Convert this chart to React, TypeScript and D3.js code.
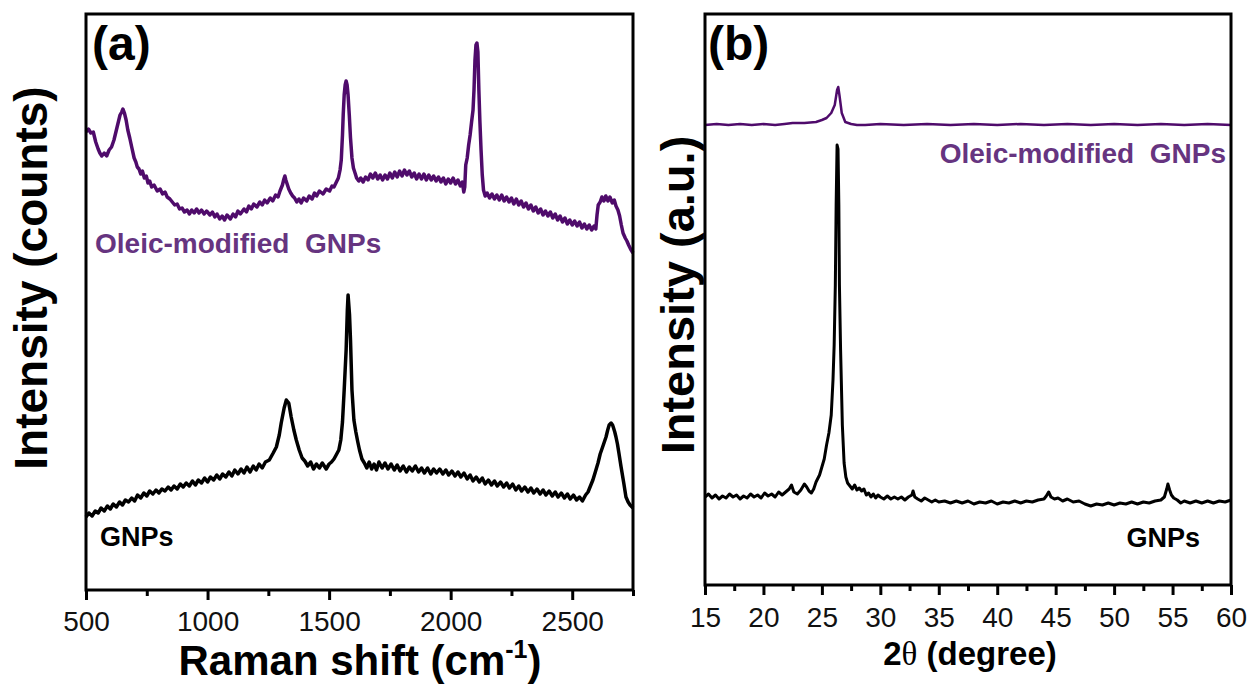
import { useEffect, useRef } from 'react';
import * as d3 from 'd3';

// Raman spectra, [shift cm-1, intensity counts (arb.)]
const ramanOleic: [number, number][] = [
  [500, 458], [510, 461], [520, 457], [530, 458], [540, 448], [550, 441], [557, 437], [565, 434],
  [575, 437], [585, 434], [595, 440], [605, 443], [615, 450], [625, 460], [633, 468], [640, 475],
  [647, 478], [652, 481], [658, 477], [665, 470], [672, 460], [680, 452], [688, 443], [698, 432],
  [705, 428], [711, 423], [718, 421], [725, 416], [732, 419], [740, 412], [748, 414], [755, 407],
  [762, 409], [770, 403], [780, 405], [793, 399], [805, 401], [815, 396], [825, 398], [834, 393],
  [845, 391], [855, 388], [865, 385], [875, 386], [885, 381], [895, 382], [905, 378], [916, 380],
  [925, 376], [935, 380], [945, 377], [955, 381], [965, 377], [975, 380], [986, 376], [996, 379],
  [1010, 375], [1020, 378], [1030, 373], [1039, 376], [1050, 371], [1060, 374], [1070, 370], [1080, 375],
  [1094, 371], [1105, 376], [1115, 373], [1125, 379], [1135, 376], [1150, 381], [1160, 378], [1170, 384],
  [1180, 381], [1190, 386], [1203, 383], [1215, 388], [1225, 385], [1235, 390], [1245, 387], [1258, 392],
  [1268, 389], [1280, 395], [1290, 393], [1298, 399], [1308, 405], [1314, 411], [1318, 414], [1322, 410],
  [1326, 407], [1334, 401], [1342, 397], [1350, 394], [1358, 392], [1367, 388], [1376, 391], [1385, 387],
  [1395, 392], [1408, 389], [1418, 394], [1430, 391], [1440, 397], [1449, 394], [1460, 399], [1475, 396],
  [1488, 401], [1502, 399], [1512, 404], [1520, 403], [1530, 408], [1538, 412], [1545, 420], [1550, 430],
  [1555, 455], [1558, 475], [1562, 495], [1566, 505], [1570, 509], [1574, 505], [1578, 495], [1583, 475],
  [1588, 452], [1594, 432], [1600, 422], [1608, 416], [1613, 412], [1622, 409], [1630, 412], [1640, 408],
  [1650, 413], [1660, 410], [1670, 416], [1680, 412], [1690, 417], [1700, 411], [1710, 415], [1720, 410],
  [1730, 415], [1740, 411], [1750, 417], [1760, 412], [1770, 418], [1780, 413], [1790, 419], [1800, 414],
  [1810, 420], [1820, 415], [1830, 419], [1840, 413], [1850, 417], [1860, 411], [1870, 416], [1880, 411],
  [1890, 416], [1900, 410], [1910, 415], [1920, 410], [1930, 414], [1940, 409], [1950, 413], [1960, 408],
  [1970, 412], [1980, 406], [1990, 411], [2000, 407], [2010, 412], [2020, 406], [2030, 410], [2040, 404],
  [2048, 408], [2054, 398], [2058, 403], [2062, 425], [2068, 432], [2074, 445], [2080, 455], [2086, 468],
  [2092, 480], [2096, 500], [2100, 530], [2104, 545], [2108, 547], [2112, 538], [2116, 500], [2120, 470],
  [2125, 440], [2130, 415], [2135, 400], [2142, 394], [2150, 397], [2160, 392], [2170, 396], [2180, 391],
  [2190, 395], [2200, 390], [2210, 395], [2220, 389], [2230, 393], [2240, 388], [2250, 392], [2260, 386],
  [2270, 391], [2280, 385], [2290, 389], [2300, 383], [2310, 387], [2320, 381], [2330, 385], [2340, 379],
  [2350, 383], [2360, 377], [2370, 381], [2380, 375], [2390, 379], [2400, 374], [2410, 378], [2420, 372],
  [2430, 376], [2440, 370], [2450, 374], [2460, 368], [2470, 372], [2480, 366], [2490, 370], [2500, 365],
  [2510, 369], [2520, 364], [2530, 368], [2540, 362], [2550, 366], [2560, 361], [2570, 365], [2580, 360],
  [2590, 364], [2597, 361], [2602, 375], [2607, 385], [2615, 388], [2622, 393], [2630, 389], [2638, 394],
  [2647, 389], [2655, 393], [2665, 387], [2673, 390], [2680, 384], [2688, 380], [2695, 374], [2702, 365],
  [2709, 357], [2718, 352], [2725, 349], [2732, 345], [2740, 341], [2750, 337],
];

const ramanGNPs: [number, number][] = [
  [500, 73], [512, 77], [525, 74], [538, 79], [550, 77], [562, 82], [575, 79], [588, 84],
  [600, 81], [612, 86], [625, 83], [638, 88], [650, 85], [662, 90], [675, 88], [688, 92],
  [700, 89], [712, 95], [725, 92], [738, 97], [750, 94], [762, 99], [775, 96], [788, 100],
  [800, 97], [812, 101], [825, 99], [838, 103], [850, 100], [862, 104], [875, 101], [888, 106],
  [900, 103], [912, 107], [925, 104], [938, 109], [950, 105], [962, 110], [975, 107], [988, 112],
  [1000, 108], [1012, 113], [1025, 110], [1038, 115], [1050, 111], [1062, 116], [1075, 113], [1088, 118],
  [1100, 114], [1112, 120], [1125, 116], [1138, 121], [1150, 117], [1162, 123], [1175, 118], [1188, 124],
  [1200, 120], [1212, 126], [1225, 122], [1238, 128], [1254, 130], [1270, 137], [1283, 143], [1295, 155],
  [1303, 167], [1315, 182], [1324, 190], [1334, 187], [1344, 173], [1355, 160], [1365, 150], [1377, 140],
  [1389, 132], [1400, 129], [1412, 124], [1424, 128], [1436, 121], [1448, 126], [1460, 122], [1472, 127],
  [1488, 121], [1500, 126], [1510, 128], [1520, 131], [1529, 135], [1540, 140], [1548, 150], [1555, 168],
  [1562, 200], [1570, 240], [1575, 280], [1578, 295], [1584, 275], [1588, 250], [1594, 200], [1602, 170],
  [1610, 158], [1618, 148], [1625, 140], [1635, 131], [1645, 127], [1655, 122], [1665, 128], [1675, 121],
  [1685, 126], [1695, 120], [1705, 128], [1718, 122], [1730, 127], [1742, 121], [1755, 126], [1768, 120],
  [1780, 125], [1792, 119], [1805, 124], [1818, 118], [1830, 123], [1842, 119], [1855, 124], [1868, 118],
  [1880, 122], [1892, 117], [1905, 122], [1918, 116], [1930, 121], [1942, 117], [1955, 121], [1968, 116],
  [1980, 120], [1992, 115], [2005, 119], [2018, 114], [2030, 118], [2042, 113], [2055, 117], [2068, 111],
  [2080, 115], [2092, 109], [2105, 113], [2118, 108], [2130, 112], [2142, 106], [2155, 110], [2168, 105],
  [2180, 109], [2192, 104], [2205, 108], [2218, 103], [2230, 107], [2242, 102], [2255, 106], [2268, 100],
  [2280, 104], [2292, 99], [2305, 103], [2318, 98], [2330, 102], [2342, 97], [2355, 101], [2368, 96],
  [2380, 100], [2392, 95], [2405, 99], [2418, 94], [2430, 98], [2442, 93], [2455, 97], [2468, 92],
  [2480, 96], [2492, 91], [2505, 95], [2518, 90], [2530, 93], [2542, 89], [2555, 95], [2565, 98],
  [2575, 104], [2585, 110], [2595, 118], [2606, 127], [2615, 136], [2625, 143], [2632, 148], [2639, 153],
  [2646, 160], [2652, 165], [2660, 167], [2666, 165], [2670, 162], [2675, 158], [2680, 153], [2686, 146],
  [2692, 137], [2701, 123], [2712, 107], [2721, 93], [2730, 88], [2738, 85], [2750, 82],
];

// XRD patterns, [2theta deg, intensity (a.u.)]
const xrdGNPs: [number, number][] = [
  [15, 88], [15.3, 91], [15.6, 87], [15.9, 90], [16.2, 86], [16.5, 89], [16.8, 87], [17.1, 91],
  [17.4, 88], [17.7, 90], [18, 86], [18.3, 89], [18.6, 87], [18.9, 91], [19.2, 88], [19.5, 90],
  [19.8, 87], [20.1, 92], [20.4, 89], [20.7, 91], [21, 88], [21.3, 93], [21.6, 90], [21.9, 93],
  [22.2, 96], [22.4, 100], [22.6, 93], [22.9, 91], [23.2, 95], [23.5, 101], [23.7, 98], [23.9, 94],
  [24.1, 92], [24.3, 96], [24.5, 103], [24.8, 110], [25, 118], [25.2, 126], [25.4, 140], [25.6, 152],
  [25.8, 170], [25.95, 205], [26.05, 240], [26.15, 300], [26.22, 380], [26.3, 440], [26.38, 436], [26.45, 380],
  [26.5, 300], [26.6, 235], [26.75, 160], [26.9, 122], [27.05, 108], [27.2, 102], [27.4, 99], [27.6, 96],
  [27.8, 100], [28, 95], [28.2, 97], [28.4, 94], [28.6, 96], [28.8, 90], [29, 92], [29.2, 88],
  [29.4, 91], [29.6, 87], [29.8, 90], [30, 88], [30.3, 86], [30.6, 89], [30.9, 86], [31.2, 88],
  [31.5, 86], [31.8, 88], [32.1, 85], [32.4, 88], [32.7, 90], [32.8, 94], [32.95, 88], [33.2, 86],
  [33.5, 84], [33.8, 87], [34.1, 85], [34.4, 83], [34.7, 85], [35, 83], [35.5, 84], [36, 82],
  [36.5, 84], [37, 82], [37.5, 84], [38, 81], [38.5, 83], [39, 82], [39.5, 84], [40, 81],
  [40.5, 83], [41, 82], [41.5, 84], [42, 82], [42.5, 84], [43, 83], [43.5, 85], [44, 86],
  [44.2, 89], [44.4, 93], [44.6, 88], [44.9, 86], [45.2, 87], [45.6, 84], [46, 86], [46.5, 83],
  [47, 84], [47.5, 81], [48, 79], [48.5, 81], [49, 80], [49.5, 82], [50, 80], [50.5, 82],
  [51, 81], [51.5, 83], [52, 81], [52.5, 83], [53, 82], [53.5, 84], [54, 85], [54.3, 88],
  [54.5, 96], [54.6, 101], [54.75, 95], [54.9, 90], [55.1, 87], [55.4, 85], [55.7, 82], [56, 84],
  [56.5, 82], [57, 84], [57.5, 82], [58, 84], [58.5, 82], [59, 84], [59.5, 83], [60, 85],
];

const xrdOleic: [number, number][] = [
  [15, 460], [16, 461], [17, 460], [18, 461], [19, 460], [20, 461], [21, 460], [21.8, 461],
  [22.5, 462], [23.5, 462], [24.5, 463], [25, 465], [25.4, 467], [25.8, 472], [26.1, 480], [26.3, 495],
  [26.4, 498], [26.5, 490], [26.7, 472], [27, 463], [27.5, 461], [28, 460], [28.7, 460], [30, 461],
  [32, 460], [34, 461], [36, 460], [38, 461], [40, 460], [42, 461], [44, 460], [46, 461],
  [48, 460], [50, 461], [52, 460], [54, 461], [56, 460], [58, 461], [60, 460],
];

const ramanMajor = [500, 1000, 1500, 2000, 2500];
const ramanMinor = [750, 1250, 1750, 2250, 2750];
const xrdMajor = [15, 20, 25, 30, 35, 40, 45, 50, 55, 60];
const xrdMinor = [17.5, 22.5, 27.5, 32.5, 37.5, 42.5, 47.5, 52.5, 57.5];

const PURPLE_LINE = '#4f0b6b';
const PURPLE_TEXT = '#663480';
const FONT = 'Arial, "Liberation Sans", sans-serif';

const App = () => {
  const svgRef = useRef(null);

  useEffect(() => {
    const svg = d3.select(svgRef.current);
    svg.selectAll('*').remove();

    const drawPanel = (opts) => {
      const { left, right, top, bottom, domain, yMax, major, minor, series, tickY } = opts;
      const x = d3.scaleLinear().domain(domain).range([left, right]);
      const y = d3.scaleLinear().domain([0, yMax]).range([bottom, top]);
      const g = svg.append('g');

      const line = d3.line().x(d => x(d[0])).y(d => y(d[1]));
      series.forEach(s => {
        g.append('path')
          .attr('d', line(s.data))
          .style('fill', 'none')
          .style('stroke', s.color)
          .style('stroke-width', s.width)
          .style('stroke-linejoin', 'round');
      });

      // frame
      g.append('rect')
        .attr('x', left).attr('y', top)
        .attr('width', right - left).attr('height', bottom - top)
        .style('fill', 'none').style('stroke', '#000').style('stroke-width', 3);

      // ticks
      const axMajor = d3.axisBottom(x).tickValues(major).tickSize(10).tickSizeOuter(0)
        .tickFormat(d3.format('d'));
      const ax = g.append('g').attr('transform', `translate(0,${bottom})`).call(axMajor);
      ax.select('.domain').remove();
      ax.selectAll('line').style('stroke', '#000').style('stroke-width', 3);
      ax.selectAll('text')
        .attr('y', tickY - bottom).attr('dy', 0)
        .style('font-family', FONT).style('font-size', '28px').style('fill', '#111');

      const axMinor = d3.axisBottom(x).tickValues(minor).tickSize(6).tickFormat(() => '');
      const axm = g.append('g').attr('transform', `translate(0,${bottom})`).call(axMinor);
      axm.select('.domain').remove();
      axm.selectAll('line').style('stroke', '#000').style('stroke-width', 3);
      return { x, y };
    };

    drawPanel({
      left: 86, right: 633, top: 14, bottom: 590,
      domain: [500, 2750], yMax: 576,
      major: ramanMajor, minor: ramanMinor, tickY: 631,
      series: [
        { data: ramanOleic, color: PURPLE_LINE, width: 3.5 },
        { data: ramanGNPs, color: '#000', width: 3.5 },
      ],
    });

    drawPanel({
      left: 705, right: 1231, top: 14, bottom: 585,
      domain: [15, 60], yMax: 571,
      major: xrdMajor, minor: xrdMinor, tickY: 627,
      series: [
        { data: xrdOleic, color: PURPLE_LINE, width: 2.5 },
        { data: xrdGNPs, color: '#000', width: 3 },
      ],
    });

    const text = (x, yy, str, size, color = '#000', anchor = 'start') =>
      svg.append('text')
        .attr('x', x).attr('y', yy)
        .style('font-family', FONT).style('font-weight', 'bold')
        .style('font-size', `${size}px`).style('fill', color)
        .style('text-anchor', anchor).style('white-space', 'pre')
        .text(str);

    text(92, 60, '(a)', 48);
    text(708, 60, '(b)', 48);
    text(95, 253, 'Oleic-modified  GNPs', 28, PURPLE_TEXT);
    text(100, 546, 'GNPs', 27);
    text(1226, 163, 'Oleic-modified  GNPs', 28, PURPLE_TEXT, 'end');
    text(1200, 547, 'GNPs', 27, '#000', 'end');

    // x titles
    const t1 = text(360, 675, 'Raman shift (cm', 42, '#000', 'middle');
    t1.append('tspan').attr('dy', -17).style('font-size', '25px').text('-1');
    t1.append('tspan').attr('dy', 17).text(')');

    const t2 = text(970, 665, '2', 33, '#000', 'middle');
    t2.append('tspan').style('font-family', '"Liberation Serif", serif').style('font-weight', 'normal').text('θ');
    t2.append('tspan').text(' (degree)');

    // y titles
    svg.append('text')
      .attr('transform', 'translate(47,278) rotate(-90)')
      .style('font-family', FONT).style('font-weight', 'bold').style('font-size', '46px')
      .style('text-anchor', 'middle')
      .text('Intensity (counts)');
    svg.append('text')
      .attr('transform', 'translate(694,295) rotate(-90)')
      .style('font-family', FONT).style('font-weight', 'bold').style('font-size', '47px')
      .style('text-anchor', 'middle')
      .text('Intensity (a.u.)');
  }, []);

  return (
    <svg ref={svgRef} width={1249} height={688}
      style={{ position: 'absolute', left: 0, top: 0, background: '#fff' }} />
  );
};

export default App;
